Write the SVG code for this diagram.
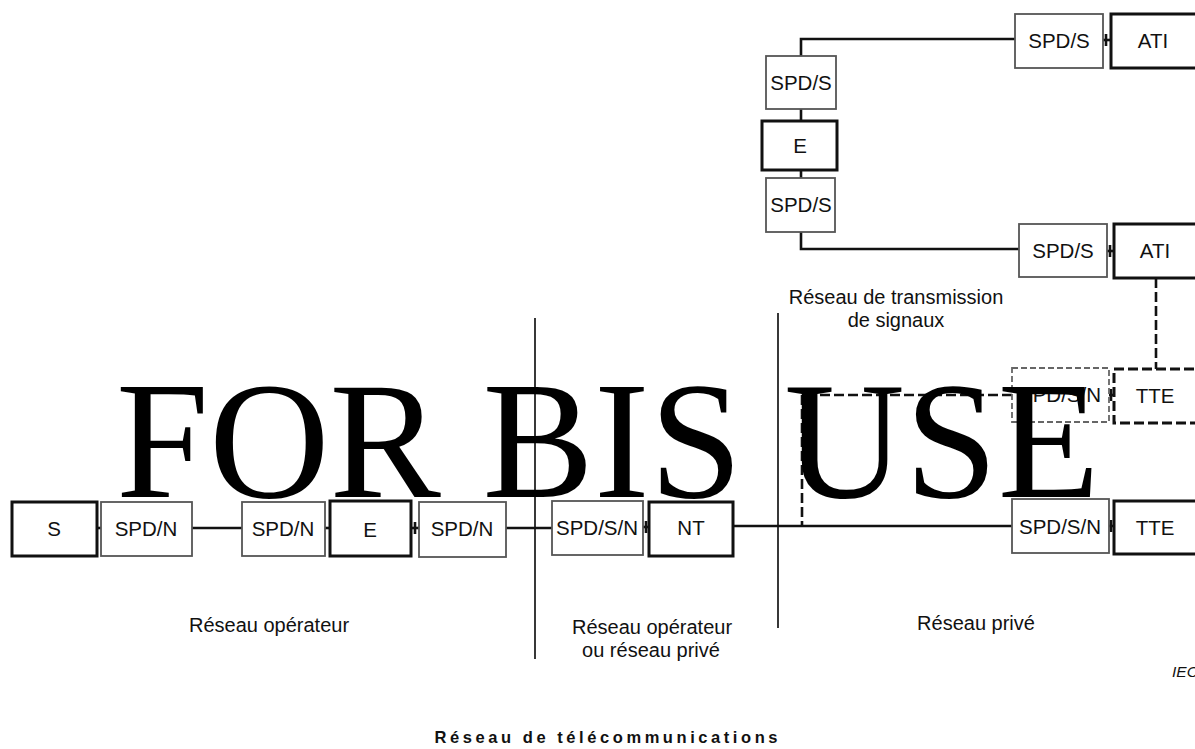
<svg xmlns="http://www.w3.org/2000/svg" width="1195" height="749" viewBox="0 0 1195 749">
<style>
.thin{fill:#fff;stroke:#555;stroke-width:1.8}
.thick{fill:#fff;stroke:#111;stroke-width:3}
.thinD{fill:#fff;stroke:#666;stroke-width:1.8;stroke-dasharray:6 3}
.thickD{fill:#fff;stroke:#111;stroke-width:3;stroke-dasharray:10 4}
.bt{font-family:"Liberation Sans",Arial,sans-serif;font-size:20.5px;fill:#111;text-anchor:middle}
.lab{font-family:"Liberation Sans",Arial,sans-serif;font-size:20px;fill:#111;text-anchor:middle}
.ln{fill:none;stroke:#111;stroke-width:2.6}
.dl{fill:none;stroke:#111;stroke-width:2.6;stroke-dasharray:10 4}
.div{fill:none;stroke:#222;stroke-width:1.8}
</style>
<rect width="1195" height="749" fill="#fff"/>
<g id="connectors">
<line class="div" x1="535" y1="318" x2="535" y2="659"/>
<line class="div" x1="778" y1="313" x2="778" y2="628"/>
<polyline class="ln" points="1015,39 801,39 801,56"/>
<line class="ln" x1="801" y1="109" x2="801" y2="121"/>
<line class="ln" x1="801" y1="170" x2="801" y2="178"/>
<polyline class="ln" points="801,232 801,249 1019,249"/>
<line class="ln" x1="1103" y1="40" x2="1111" y2="40"/>
<line class="ln" x1="1106" y1="34" x2="1106" y2="46" stroke-width="1.5"/>
<line class="ln" x1="1107" y1="251" x2="1114" y2="251"/>
<line class="ln" x1="1110" y1="245" x2="1110" y2="257" stroke-width="1.5"/>
<line class="dl" x1="1156" y1="278" x2="1156" y2="369"/>
<polyline class="dl" points="1012,395 802,395 802,526"/>
<line class="ln" x1="1109" y1="395" x2="1114" y2="395"/>
<line class="ln" x1="97" y1="528" x2="101" y2="528"/>
<line class="ln" x1="192" y1="528" x2="242" y2="528"/>
<line class="ln" x1="325" y1="528" x2="330" y2="528"/>
<line class="ln" x1="411" y1="528" x2="419" y2="528"/>
<line class="ln" x1="506" y1="528" x2="552" y2="528"/>
<line class="ln" x1="643" y1="527" x2="649" y2="527"/>
<line class="ln" x1="733" y1="526" x2="1012" y2="526"/>
<line class="ln" x1="1109" y1="526" x2="1114" y2="526"/>
<line class="ln" x1="415" y1="522" x2="415" y2="534" stroke-width="1.5"/>
<line class="ln" x1="646" y1="521" x2="646" y2="533" stroke-width="1.5"/>
<line class="ln" x1="1111" y1="520" x2="1111" y2="532" stroke-width="1.5"/>
<line class="ln" x1="1111" y1="389" x2="1111" y2="401" stroke-width="1.5"/>
</g>
<g id="n_spds_top"><rect class="thin" x="1015" y="14" width="88" height="54"/><text class="bt" x="1059" y="48">SPD/S</text></g>
<g id="n_ati_top"><rect class="thick" x="1111" y="14" width="88" height="54"/><text class="bt" x="1153" y="48">ATI</text></g>
<g id="n_spds_l1"><rect class="thin" x="766" y="56" width="70" height="53"/><text class="bt" x="801" y="90">SPD/S</text></g>
<g id="n_e_top"><rect class="thick" x="762" y="121" width="75" height="49"/><text class="bt" x="800" y="153">E</text></g>
<g id="n_spds_l2"><rect class="thin" x="766" y="178" width="69" height="54"/><text class="bt" x="801" y="212">SPD/S</text></g>
<g id="n_spds_mid"><rect class="thin" x="1019" y="224" width="88" height="53"/><text class="bt" x="1063" y="258">SPD/S</text></g>
<g id="n_ati_mid"><rect class="thick" x="1114" y="224" width="86" height="54"/><text class="bt" x="1155" y="258">ATI</text></g>
<g id="n_spdsn_dash"><rect class="thinD" x="1012" y="368" width="97" height="54"/><text class="bt" x="1060" y="402">SPD/S/N</text></g>
<g id="n_tte_dash"><rect class="thickD" x="1114" y="369" width="86" height="54"/><text class="bt" x="1155" y="403">TTE</text></g>
<g id="n_s"><rect class="thick" x="12" y="502" width="85" height="54"/><text class="bt" x="54" y="536">S</text></g>
<g id="n_spdn1"><rect class="thin" x="101" y="502" width="91" height="54"/><text class="bt" x="146" y="536">SPD/N</text></g>
<g id="n_spdn2"><rect class="thin" x="242" y="502" width="83" height="54"/><text class="bt" x="283" y="536">SPD/N</text></g>
<g id="n_e"><rect class="thick" x="330" y="501" width="81" height="55"/><text class="bt" x="370" y="537">E</text></g>
<g id="n_spdn3"><rect class="thin" x="419" y="502" width="87" height="55"/><text class="bt" x="462" y="536">SPD/N</text></g>
<g id="n_spdsn1"><rect class="thin" x="552" y="501" width="91" height="54"/><text class="bt" x="597" y="535">SPD/S/N</text></g>
<g id="n_nt"><rect class="thick" x="649" y="502" width="84" height="54"/><text class="bt" x="691" y="535">NT</text></g>
<g id="n_spdsn2"><rect class="thin" x="1012" y="499" width="97" height="54"/><text class="bt" x="1060" y="534">SPD/S/N</text></g>
<g id="n_tte"><rect class="thick" x="1114" y="501" width="86" height="53"/><text class="bt" x="1155" y="535">TTE</text></g>
<g id="labels">
<text class="lab" x="896" y="304">Réseau de transmission</text>
<text class="lab" x="896" y="327">de signaux</text>
<text class="lab" x="269" y="632">Réseau opérateur</text>
<text class="lab" x="652" y="634">Réseau opérateur</text>
<text class="lab" x="651" y="657">ou réseau privé</text>
<text class="lab" x="976" y="630">Réseau privé</text>
<text x="1172" y="677" font-family="'Liberation Sans',Arial,sans-serif" font-size="15.5" font-style="italic" fill="#111">IEC</text>
<text x="606" y="743" font-family="'Liberation Sans',Arial,sans-serif" font-size="16.5" font-weight="bold" fill="#111" text-anchor="middle" textLength="343" lengthAdjust="spacing">Réseau de télécommunications</text>
</g>
<g id="watermark">
<text x="116" y="497" font-family="'Liberation Serif','Times New Roman',serif" font-size="167" fill="#000">FOR BIS USE</text>
</g>
</svg>
